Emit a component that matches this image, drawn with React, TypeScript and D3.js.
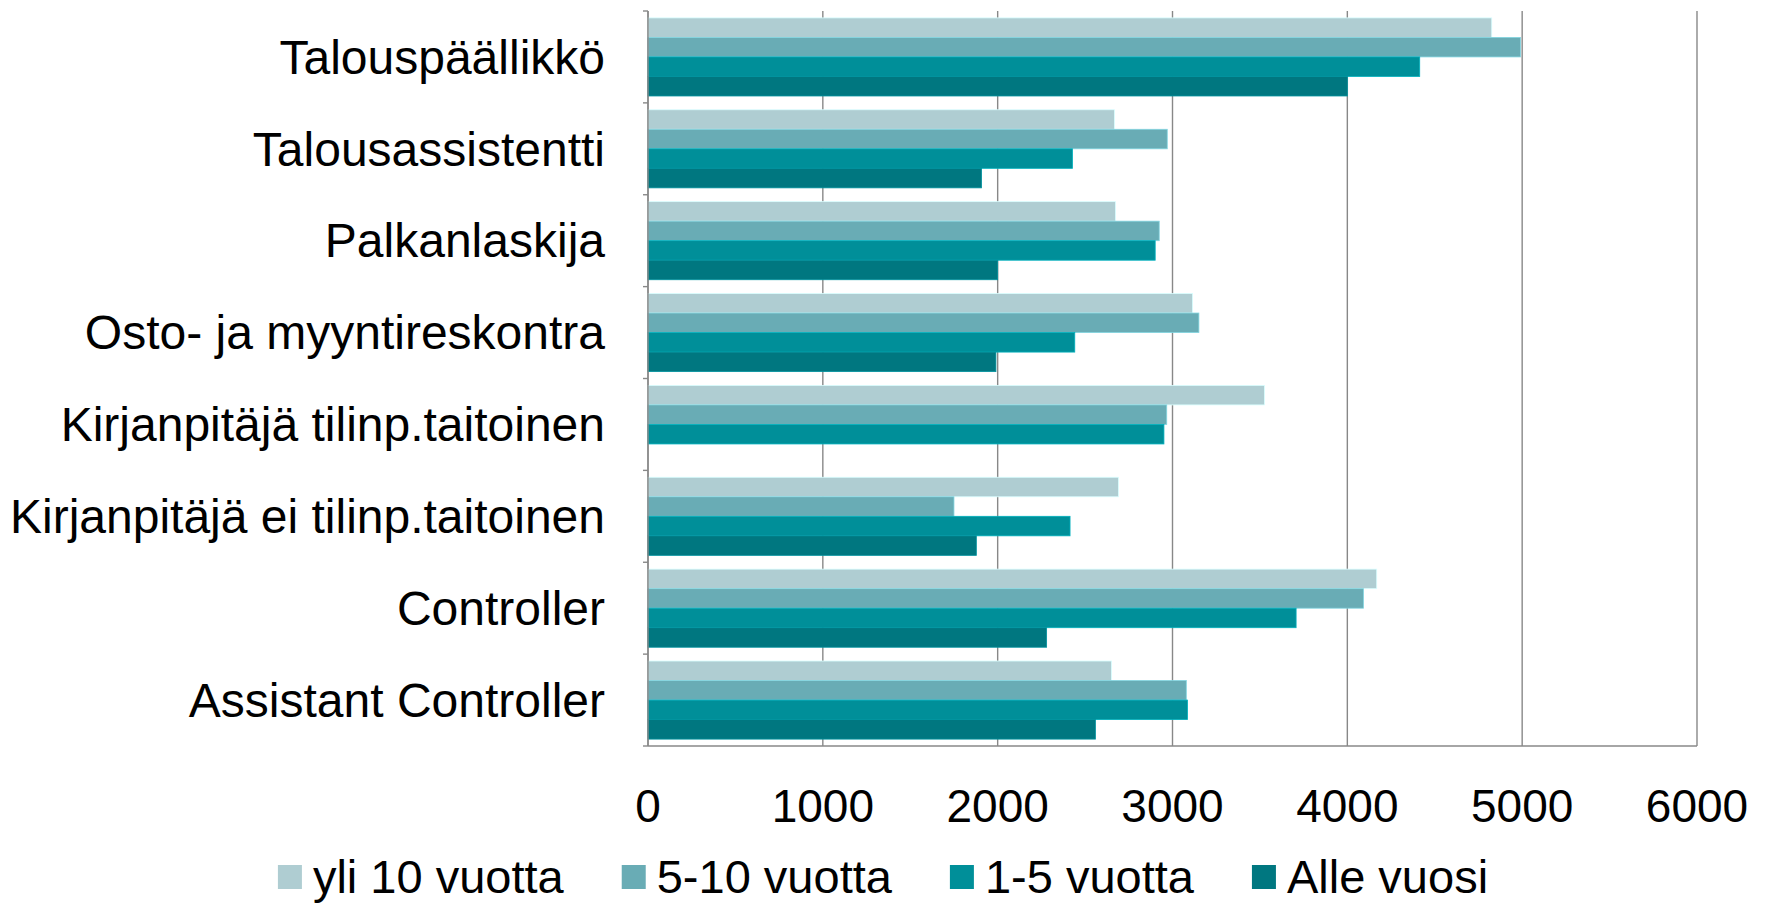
import React, { useEffect, useRef } from 'react'
import * as d3 from 'd3'

// job titles, top to bottom
const categories = [
  'Talouspäällikkö',
  'Talousassistentti',
  'Palkanlaskija',
  'Osto- ja myyntireskontra',
  'Kirjanpitäjä tilinp.taitoinen',
  'Kirjanpitäjä ei tilinp.taitoinen',
  'Controller',
  'Assistant Controller',
]
const seriesNames = ['yli 10 vuotta', '5-10 vuotta', '1-5 vuotta', 'Alle vuosi']
const seriesColors = ['#afcdd2', '#69acb5', '#008f99', '#007780']

const yli10 = [4826, 2668, 2674, 3115, 3526, 2691, 4168, 2651]
const vuotta5to10 = [4990, 2970, 2924, 3151, 2967, 1750, 4092, 3079]
const vuotta1to5 = [4414, 2428, 2901, 2441, 2951, 2414, 3707, 3086]
const alleVuosi = [4000, 1908, 2000, 1990, 0, 1878, 2280, 2559]
const seriesValues = [yli10, vuotta5to10, vuotta1to5, alleVuosi]

const xTicks = [0, 1000, 2000, 3000, 4000, 5000, 6000]

const W = 1766
const H = 906
const FONT = '"Liberation Sans", Arial, sans-serif'

export default function App() {
  const ref = useRef<SVGSVGElement>(null)

  useEffect(() => {
    const svg = d3.select(ref.current)
    svg.selectAll('*').remove()

    const margin = { top: 11, right: 69, bottom: 160, left: 648 }
    const w = W - margin.left - margin.right
    const h = H - margin.top - margin.bottom

    const x = d3.scaleLinear().domain([0, 6000]).range([0, w])
    const y = d3.scaleBand().domain(categories).range([0, h]).paddingInner(0.15).paddingOuter(0.075)
    const inner = d3.scaleBand().domain(seriesNames).range([0, y.bandwidth()])

    const g = svg.append('g').attr('transform', `translate(${margin.left},${margin.top})`)

    // gridlines
    g.selectAll('line.grid').data(xTicks).enter().append('line')
      .attr('class', 'grid')
      .attr('x1', (d) => x(d)).attr('x2', (d) => x(d))
      .attr('y1', 0).attr('y2', h)
      .attr('stroke', '#888').attr('stroke-width', 1.4)

    // bars
    seriesNames.forEach((name, si) => {
      g.append('g').selectAll('rect').data(seriesValues[si]).enter().append('rect')
        .attr('x', 0)
        .attr('y', (d, i) => (y(categories[i]) as number) + (inner(name) as number))
        .attr('width', (d) => x(d))
        .attr('height', inner.bandwidth())
        .attr('fill', seriesColors[si])
        .attr('stroke', d3.color(seriesColors[si])!.brighter(0.6).toString())
        .attr('stroke-width', 0.8)
        .attr('display', (d) => (d > 0 ? null : 'none'))
    })

    // left axis line + ticks between groups
    g.append('line').attr('x1', 0).attr('x2', 0).attr('y1', 0).attr('y2', h)
      .attr('stroke', '#888').attr('stroke-width', 1.4)
    const bounds = d3.range(categories.length + 1).map((i) => (h / categories.length) * i)
    g.selectAll('line.ytick').data(bounds).enter().append('line')
      .attr('class', 'ytick')
      .attr('x1', -5).attr('x2', 0)
      .attr('y1', (d) => d).attr('y2', (d) => d)
      .attr('stroke', '#888').attr('stroke-width', 1.4)
    // bottom axis line
    g.append('line').attr('x1', 0).attr('x2', w).attr('y1', h).attr('y2', h)
      .attr('stroke', '#888').attr('stroke-width', 1.4)

    // category labels
    g.selectAll('text.cat').data(categories).enter().append('text')
      .attr('class', 'cat')
      .attr('x', -43)
      .attr('y', (d) => (y(d) as number) + y.bandwidth() / 2)
      .attr('dy', '0.35em')
      .attr('text-anchor', 'end')
      .attr('font-family', FONT).attr('font-size', 48).attr('fill', '#000')
      .text((d) => d)

    // x tick labels
    g.selectAll('text.xt').data(xTicks).enter().append('text')
      .attr('class', 'xt')
      .attr('x', (d) => x(d))
      .attr('y', h + 60)
      .attr('dy', '0.35em')
      .attr('text-anchor', 'middle')
      .attr('font-family', FONT).attr('font-size', 46).attr('fill', '#000')
      .text((d) => d)

    // legend
    const legend = svg.append('g')
    const items = legend.selectAll('g').data(seriesNames).enter().append('g')
    items.append('rect')
      .attr('width', 24).attr('height', 24).attr('y', -12)
      .attr('fill', (d, i) => seriesColors[i])
    items.append('text')
      .attr('x', 35).attr('dy', '0.35em')
      .attr('font-family', FONT).attr('font-size', 47).attr('fill', '#000')
      .text((d) => d)
    let cx = 0
    items.each(function () {
      const el = this as SVGGElement
      const tw = (el.querySelector('text') as SVGTextElement).getComputedTextLength()
      d3.select(el).attr('transform', `translate(${cx},0)`)
      cx += 35 + tw + 58
    })
    const total = cx - 58
    legend.attr('transform', `translate(${(W - total) / 2},877)`)
  }, [])

  return (
    <svg ref={ref} width={W} height={H}
      style={{ position: 'absolute', left: 0, top: 0, background: '#fff', display: 'block' }} />
  )
}
